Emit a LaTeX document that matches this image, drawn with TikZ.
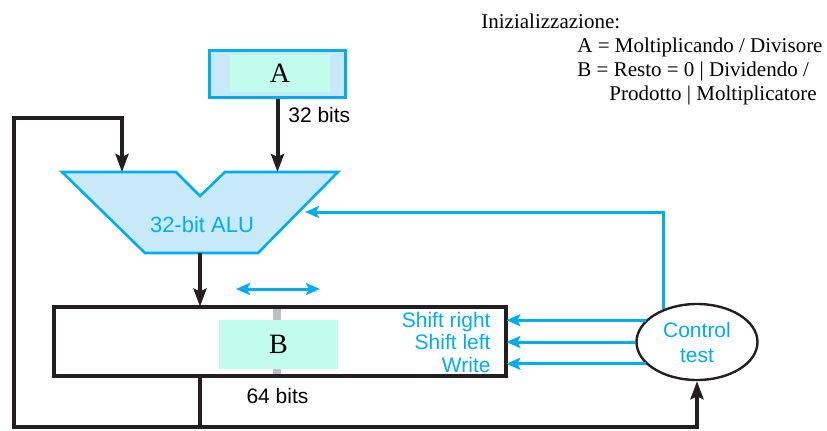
\documentclass[tikz,border=0pt]{standalone}
\usepackage{fontspec}
\setmainfont{Liberation Serif}
\setsansfont{Liberation Sans}
\usetikzlibrary{arrows.meta, shapes.geometric, positioning}

\definecolor{cyanc}{HTML}{00AEEF}
\definecolor{alufill}{HTML}{C7E9F8}
\definecolor{regfill}{HTML}{C2FCEC}
\definecolor{ink}{HTML}{231F20}
\definecolor{barc}{HTML}{BDBEC0}

\begin{document}
\begin{tikzpicture}[x=0.5pt, y=-0.5pt,
        bline/.style={draw=ink, line width=2pt},
        barrow/.style={bline, -{Stealth[length=9pt, width=6.5pt, inset=1.5pt]}},
        cline/.style={draw=cyanc, line width=1.5pt},
        carrow/.style={cline, -{Stealth[length=7pt, width=6pt, inset=1.5pt]}},
        sflabel/.style={font=\sffamily\fontsize{10.5}{12.5}\selectfont, inner sep=0pt},
        note/.style={font=\fontsize{10.5}{12.5}\selectfont, inner sep=0pt, anchor=base west},
        regval/.style={fill=regfill, inner sep=0pt, font=\fontsize{14}{14}\selectfont}]
                \useasboundingbox (0,0) rectangle (827,430);

                % Register A
                \node[draw=cyanc, fill=alufill, line width=1.5pt, minimum width=68pt, minimum height=23.25pt, inner sep=0pt] (A) at (277.5,74) {};
                \node[regval, minimum width=50pt, minimum height=18.5pt] (Aval) at (280,73.5) {A};
                \node[sflabel, anchor=base west] (Abits) at (288,122) {32 bits};

                % ALU
                \draw[draw=cyanc, fill=alufill, line width=1.3pt, line join=miter]
                    (62,172) -- (176,172) -- (200,196) -- (225,172) -- (338,172) -- (258,253) -- (145,253) -- cycle;
                \node[font=\sffamily\fontsize{11}{13}\selectfont, text=cyanc] (alu) at (202,225) {32-bit ALU};
                \coordinate (alu-l) at (122,172);
                \coordinate (alu-r) at (277.5,172);
                \coordinate (alu-ctl) at (305,212);
                \coordinate (alu-out) at (200,253);

                % Register B
                \node[minimum width=226pt, minimum height=34.5pt, inner sep=0pt] (B) at (280,341.5) {};
                \draw[barc, line width=4pt, shorten <=1pt, shorten >=1pt] (B.north -| 277,0) -- (B.south -| 277,0);
                \node[regval, minimum width=59.5pt, minimum height=24.5pt] (Bval) at (278.5,344.5) {B};
                \draw[ink, line width=2pt] (B.north west) rectangle (B.south east);
                \node[sflabel, anchor=base] (Bbits) at (277.5,403) {64 bits};

                \coordinate (sh-l) at (236,289);
                \coordinate (sh-r) at (320,289);
                \draw[cline, {Stealth[length=7pt, width=6pt, inset=1.5pt]}-{Stealth[length=7pt, width=6pt, inset=1.5pt]}] (sh-l) -- (sh-r);

                \node[sflabel, text=cyanc, anchor=base east] (sr) at (491,327) {Shift right};
                \node[sflabel, text=cyanc, anchor=base east] (sl) at (491,349) {Shift left};
                \node[sflabel, text=cyanc, anchor=base east] (wr) at (491,372) {Write};

                % Control
                \node[ellipse, draw=ink, fill=white, line width=1.2pt, minimum width=60.5pt, minimum height=38pt, inner sep=0pt,
                      align=center, font=\sffamily\fontsize{10.5}{12.5}\selectfont, text=cyanc] (ctl) at (697,342) {Control\\test};

                % Control lines
                \draw[carrow] (ctl.157) -- (ctl.157 -| B.east);
                \draw[carrow] (ctl.west) -- (ctl.west -| B.east);
                \draw[carrow] (ctl.203) -- (ctl.203 -| B.east);
                \draw[carrow] (ctl.136) |- (alu-ctl);

                % Data paths
                \coordinate (bot) at (200,427);
                \coordinate (loop-l) at (14,118);
                \draw[barrow] (A.south) -- (alu-r);
                \draw[barrow] (alu-out) -- (alu-out |- B.north);
                \draw[bline] (B.south -| alu-out) -- (bot);
                \draw[barrow] (bot) -| (loop-l) -| (alu-l);
                \draw[barrow] (bot) -| (ctl.south);

                % Initialisation note
                \node[note] (init) at (481,28) {Inizializzazione:};
                \node[note] (initA) at (577,52) {A = Moltiplicando / Divisore};
                \node[note] (initB) at (577,76) {B = Resto = 0 | Dividendo /};
                \node[note] (initB2) at (609,100) {Prodotto | Moltiplicatore};
            \end{tikzpicture}
\end{document}
